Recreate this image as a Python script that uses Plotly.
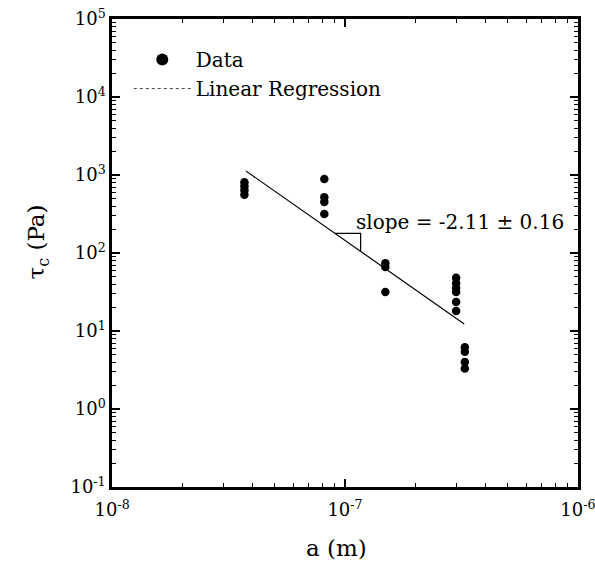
import numpy as np
import plotly.graph_objects as go

# ---- data ----
a_data = [3.7e-8, 3.7e-8, 3.7e-8, 3.7e-8,
          8.15e-8, 8.15e-8, 8.15e-8, 8.15e-8,
          1.49e-7, 1.49e-7, 1.49e-7,
          3.0e-7, 3.0e-7, 3.0e-7, 3.0e-7, 3.0e-7, 3.0e-7,
          3.27e-7, 3.27e-7, 3.27e-7, 3.27e-7]
tau_data = [805, 720, 640, 560,
            889, 520, 450, 316,
            74, 66, 31.6,
            48, 41, 35.5, 31.6, 23.5, 18,
            6.2, 5.4, 4.0, 3.3]

fit_a = [3.75e-8, 3.25e-7]
fit_tau = [1130, 12.3]

tri_a = [9.06e-8, 1.167e-7]          # slope-triangle horizontal extent
slope_label = "slope = -2.11 ± 0.16"

x_tickvals = [1e-8, 1e-7, 1e-6]
x_ticktext = ["10<sup>-8</sup>", "10<sup>-7</sup>", "10<sup>-6</sup>"]
y_tickvals = [1e-1, 1e0, 1e1, 1e2, 1e3, 1e4, 1e5]
y_ticktext = ["10<sup>-1</sup>", "10<sup>0</sup>", "10<sup>1</sup>", "10<sup>2</sup>",
              "10<sup>3</sup>", "10<sup>4</sup>", "10<sup>5</sup>"]

FONT = "DejaVu Serif"

# regression line in log space, used for the slope triangle
lx = np.log10(fit_a)
ly = np.log10(fit_tau)
def line_y(a):
    return 10 ** np.interp(np.log10(a), lx, ly)

tri_x = [tri_a[0], tri_a[1], tri_a[1]]
tri_y = [line_y(tri_a[0]), line_y(tri_a[0]), line_y(tri_a[1])]

minor_x = [m * 10.0 ** k for k in range(-8, -6) for m in range(2, 10)]
minor_y = [m * 10.0 ** k for k in range(-1, 5) for m in range(2, 10)]

fig = go.Figure()

fig.add_trace(go.Scatter(x=a_data, y=tau_data, mode="markers",
                         marker=dict(color="black", size=8.5),
                         showlegend=False, hoverinfo="skip"))
fig.add_trace(go.Scatter(x=fit_a, y=fit_tau, mode="lines",
                         line=dict(color="black", width=1.2),
                         showlegend=False, hoverinfo="skip"))
fig.add_trace(go.Scatter(x=tri_x, y=tri_y, mode="lines",
                         line=dict(color="black", width=1.2),
                         showlegend=False, hoverinfo="skip"))

# legend entries
fig.add_trace(go.Scatter(x=[None], y=[None], mode="markers", name="Data",
                         marker=dict(color="black", size=12), legendgroup="a"))
fig.add_trace(go.Scatter(x=[None], y=[None], mode="lines", name="Linear Regression",
                         line=dict(color="#444", width=1, dash="dot"), legendgroup="b"))

axis_common = dict(
    showline=True, linecolor="black", linewidth=2.5, mirror="allticks",
    ticks="inside", ticklen=8, tickwidth=1.5, tickcolor="black",
    showgrid=False, zeroline=False, ticklabeloverflow="allow", automargin=False,
    tickfont=dict(family=FONT, size=18, color="black"),
)

fig.update_xaxes(type="log", range=[-8.0004, -5.9996], tickvals=x_tickvals,
                 ticktext=x_ticktext, ticklabelstandoff=5,
                 minor=dict(tickvals=minor_x, ticks="inside", ticklen=4,
                            tickwidth=1.2, tickcolor="black", showgrid=False),
                 **axis_common)
fig.update_yaxes(type="log", range=[-1.0004, 5.0004], tickvals=y_tickvals,
                 ticktext=y_ticktext,
                 minor=dict(tickvals=minor_y, ticks="inside", ticklen=4,
                            tickwidth=1.2, tickcolor="black", showgrid=False),
                 **axis_common)

fig.add_annotation(x=np.log10(1.09e-7), y=np.log10(249), xref="x", yref="y",
                   text=slope_label, showarrow=False, xanchor="left", yanchor="middle",
                   font=dict(family=FONT, size=20, color="black"))
fig.add_annotation(x=0.4807, y=-0.130, xref="paper", yref="paper",
                   text="a (m)", showarrow=False, xanchor="center", yanchor="middle",
                   font=dict(family=FONT, size=23, color="black"))
fig.add_annotation(x=-0.158, y=0.523, xref="paper", yref="paper", textangle=-90,
                   text="τ<sub>c</sub> (Pa)", showarrow=False, xanchor="center",
                   yanchor="middle", font=dict(family=FONT, size=23, color="#000000"))

fig.update_layout(
    width=595, height=563,
    margin=dict(l=112, r=17, t=19, b=76, autoexpand=False),
    paper_bgcolor="white", plot_bgcolor="white",
    font=dict(family=FONT, size=18, color="black"),
    legend=dict(x=0.036, y=0.955, xanchor="left", yanchor="top",
                bgcolor="rgba(0,0,0,0)", itemwidth=57, tracegroupgap=0,
                traceorder="grouped",
                font=dict(family=FONT, size=20, color="black")),
)

fig.write_html("out.html")
